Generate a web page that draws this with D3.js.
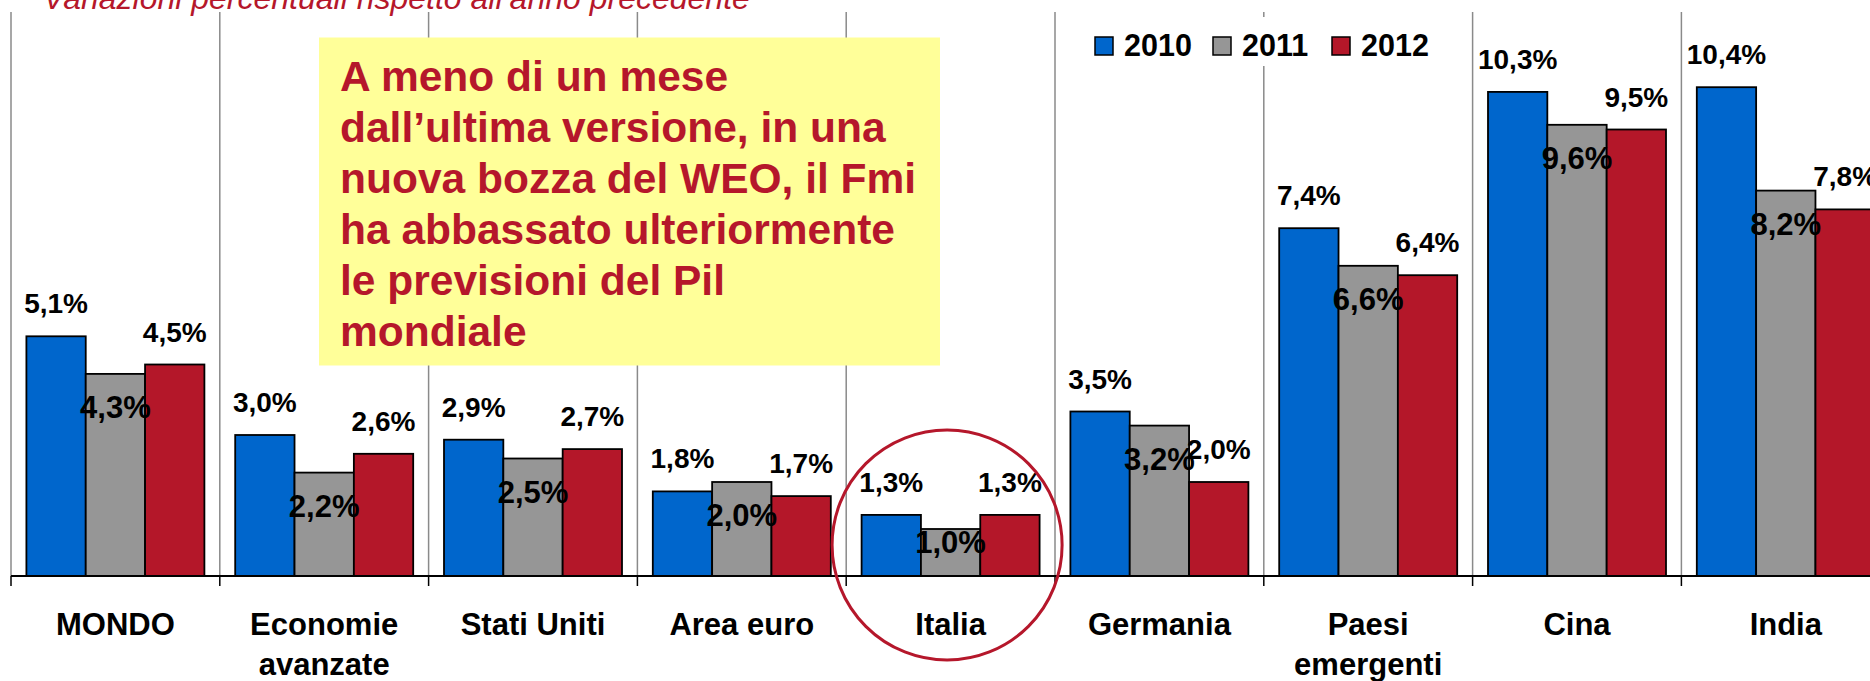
<!DOCTYPE html>
<html>
<head>
<meta charset="utf-8">
<script src="https://cdn.jsdelivr.net/npm/d3@7"></script>
<style>
  html, body { margin: 0; padding: 0; background: #ffffff; overflow: hidden; }
  svg { display: block; }
  text { font-family: "Liberation Sans", Arial, sans-serif; }
</style>
</head>
<body>
<svg id="chart" width="1870" height="681"></svg>
<script>
// ---- Data ----
const categories = ["MONDO", "Economie avanzate", "Stati Uniti", "Area euro", "Italia", "Germania", "Paesi emergenti", "Cina", "India"];
const categoryLines = [["MONDO"], ["Economie", "avanzate"], ["Stati Uniti"], ["Area euro"], ["Italia"], ["Germania"], ["Paesi", "emergenti"], ["Cina"], ["India"]];
const seriesNames = ["2010", "2011", "2012"];
const values2010 = [5.1, 3.0, 2.9, 1.8, 1.3, 3.5, 7.4, 10.3, 10.4];
const values2011 = [4.3, 2.2, 2.5, 2.0, 1.0, 3.2, 6.6, 9.6, 8.2];
const values2012 = [4.5, 2.6, 2.7, 1.7, 1.3, 2.0, 6.4, 9.5, 7.8];
const subtitle = "Variazioni percentuali rispetto all\u2019anno precedente";
const noteLines = [
  "A meno di un mese",
  "dall\u2019ultima versione, in una",
  "nuova bozza del WEO, il Fmi",
  "ha abbassato ulteriormente",
  "le previsioni del Pil",
  "mondiale"
];
const highlighted = "Italia";

// ---- Styles ----
const colors = { "2010": "#0066CC", "2011": "#969696", "2012": "#B41729" };
const darkRed = "#B5172B";

const svg = d3.select("#chart");
const x0 = 11, bandW = 208.8, yBase = 576, yTop = 12;

const x = d3.scaleBand().domain(categories).range([x0, x0 + bandW * categories.length]).paddingInner(0).paddingOuter(0);
const xs = d3.scaleBand().domain(seriesNames).range([15.4, 15.4 + 178]).padding(0);
const y = d3.scaleLinear().domain([0, 12]).range([yBase, yTop]);

const series = seriesNames.map((s, i) => ({
  name: s,
  values: [values2010, values2011, values2012][i]
}));

// subtitle (cut at top, as in the original slide)
svg.append("text")
  .attr("x", 43).attr("y", 8.5)
  .attr("font-size", 32).attr("font-style", "italic")
  .attr("fill", darkRed)
  .text(subtitle);

// vertical separators
const bounds = d3.range(categories.length).map(i => x(categories[i]));
svg.append("g").selectAll("line").data(bounds).join("line")
  .attr("x1", d => d).attr("x2", d => d)
  .attr("y1", yTop).attr("y2", yBase)
  .attr("stroke", "#8a8a8a").attr("stroke-width", 1.5);

// bars
const gBars = svg.append("g");
series.forEach(s => {
  gBars.selectAll(null).data(categories).join("rect")
    .attr("x", (c) => x(c) + xs(s.name))
    .attr("width", xs.bandwidth())
    .attr("y", (c, i) => y(s.values[i]))
    .attr("height", (c, i) => yBase - y(s.values[i]))
    .attr("fill", colors[s.name])
    .attr("stroke", "#000").attr("stroke-width", 1.8);
});

// axis
const axis = d3.axisBottom(x).tickSize(10).tickFormat("");
const gAxis = svg.append("g").attr("transform", `translate(0,${yBase})`).call(axis);
gAxis.select(".domain").attr("stroke", "#000").attr("stroke-width", 2.2).attr("d", `M${x0},0H1870`);
gAxis.selectAll(".tick").remove();
gAxis.selectAll(".bt").data(bounds).join("line")
  .attr("x1", d => d).attr("x2", d => d).attr("y1", 0).attr("y2", 10)
  .attr("stroke", "#000").attr("stroke-width", 1.5);

// category labels
const gCat = svg.append("g");
categories.forEach((c, i) => {
  const t = gCat.append("text")
    .attr("x", x(c) + x.bandwidth() / 2)
    .attr("y", 635)
    .attr("text-anchor", "middle")
    .attr("font-size", 31).attr("font-weight", "bold").attr("fill", "#000");
  categoryLines[i].forEach((ln, j) => {
    t.append("tspan").attr("x", x(c) + x.bandwidth() / 2).attr("y", 635 + j * 40).text(ln);
  });
});

// value labels
const fmt = v => d3.format(".1f")(v).replace(".", ",") + "%";
const gLab = svg.append("g");
series.forEach(s => {
  const inside = s.name === "2011";
  gLab.selectAll(null).data(categories).join("text")
    .attr("x", c => x(c) + xs(s.name) + xs.bandwidth() / 2)
    .attr("y", (c, i) => inside ? Math.min(y(s.values[i]) + 44, yBase - 23) : y(s.values[i]) - 23)
    .attr("text-anchor", "middle")
    .attr("font-size", inside ? 31 : 28).attr("font-weight", "bold").attr("fill", "#000")
    .text((c, i) => fmt(s.values[i]));
});

// annotation box
svg.append("rect")
  .attr("x", 319).attr("y", 37.5).attr("width", 621).attr("height", 328)
  .attr("fill", "#FFFF99");
const note = svg.append("text")
  .attr("font-size", 42.5).attr("font-weight", "bold").attr("fill", darkRed);
noteLines.forEach((ln, i) => {
  note.append("tspan").attr("x", 340).attr("y", 90.5 + i * 51).text(ln);
});

// legend
const lg = svg.append("g");
lg.append("rect").attr("x", 1086).attr("y", 17).attr("width", 356).attr("height", 49).attr("fill", "#fff");
const legendX = [1095, 1213, 1332];
seriesNames.forEach((s, i) => {
  lg.append("rect").attr("x", legendX[i]).attr("y", 37).attr("width", 18).attr("height", 18)
    .attr("fill", colors[s]).attr("stroke", "#000").attr("stroke-width", 1.5);
  lg.append("text").attr("x", legendX[i] + 29).attr("y", 55.5)
    .attr("font-size", 30.5).attr("font-weight", "bold").attr("fill", "#000").text(s);
});

// highlight circle around Italia
const ci = categories.indexOf(highlighted);
svg.append("ellipse")
  .attr("cx", x(categories[ci]) + x.bandwidth() / 2 - 3.5)
  .attr("cy", 545).attr("rx", 115).attr("ry", 115)
  .attr("fill", "none").attr("stroke", darkRed).attr("stroke-width", 3);
</script>
</body>
</html>
